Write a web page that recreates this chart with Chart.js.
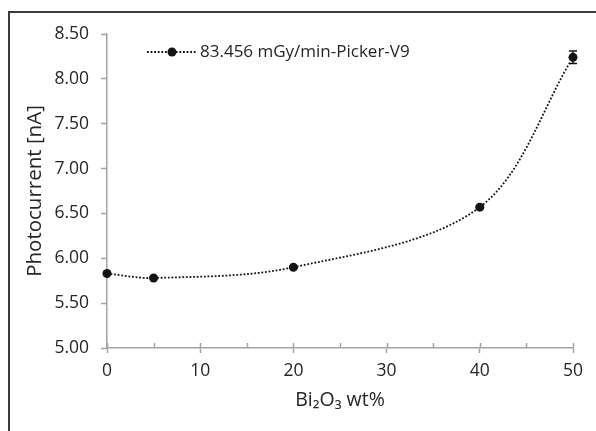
<!DOCTYPE html>
<html>
<head>
<meta charset="utf-8">
<script src="https://cdn.jsdelivr.net/npm/chart.js@4/dist/chart.umd.min.js"></script>
<style>
  html, body { margin: 0; padding: 0; background: #fff; }
</style>
</head>
<body>
<canvas id="chart" width="596" height="431"></canvas>
<script>
const wtPercent = [0, 5, 20, 40, 50]
const photocurrent = [5.83, 5.78, 5.9, 6.57, 8.24]
const errors = [0.01, 0.01, 0.01, 0.01, 0.07]
const seriesLabel = '83.456 mGy/min-Picker-V9'
const xTitle = 'Bi\u2082O\u2083 wt%'
const yTitle = 'Photocurrent [nA]'

const axisGray = '#a3a3a3'
const textColor = '#262626'
const ink = '#141414'
const fontFamily = '"Open Sans", sans-serif'

// outer frame, only top and left edges are visible in the original
const framePlugin = {
  id: 'frame',
  beforeDraw(chart) {
    const { ctx } = chart
    ctx.save()
    ctx.strokeStyle = '#3c3c3c'
    ctx.lineWidth = 2
    ctx.beginPath()
    ctx.moveTo(9, 431)
    ctx.lineTo(9, 12)
    ctx.lineTo(596, 12)
    ctx.stroke()
    ctx.restore()
  },
}

const errorBarPlugin = {
  id: 'errorBars',
  afterDatasetsDraw(chart) {
    const { ctx, scales } = chart
    ctx.save()
    ctx.strokeStyle = ink
    ctx.lineWidth = 1.5
    wtPercent.forEach((x, i) => {
      const px = scales.x.getPixelForValue(x)
      const hi = scales.y.getPixelForValue(photocurrent[i] + errors[i])
      const lo = scales.y.getPixelForValue(photocurrent[i] - errors[i])
      ctx.beginPath()
      ctx.moveTo(px, hi)
      ctx.lineTo(px, lo)
      ctx.moveTo(px - 4, hi)
      ctx.lineTo(px + 4, hi)
      ctx.moveTo(px - 4, lo)
      ctx.lineTo(px + 4, lo)
      ctx.stroke()
    })
    ctx.restore()
  },
}

// small inward ticks every 5 on the x axis
const innerTicksPlugin = {
  id: 'innerTicks',
  afterDraw(chart) {
    const { ctx, scales } = chart
    const y0 = scales.x.top
    ctx.save()
    ctx.strokeStyle = axisGray
    ctx.lineWidth = 1.5
    for (let v = 0; v <= 50; v += 5) {
      const px = Math.round(scales.x.getPixelForValue(v)) + 0.5
      ctx.beginPath()
      ctx.moveTo(px, y0)
      ctx.lineTo(px, y0 - 5)
      ctx.stroke()
    }
    ctx.restore()
  },
}

const legendPlugin = {
  id: 'lineLegend',
  afterDraw(chart) {
    const { ctx, chartArea } = chart
    const x = chartArea.left + 40
    const y = chartArea.top + 18
    ctx.save()
    ctx.strokeStyle = ink
    ctx.lineWidth = 1.8
    ctx.setLineDash([1.8, 1.8])
    ctx.beginPath()
    ctx.moveTo(x, y)
    ctx.lineTo(x + 50, y)
    ctx.stroke()
    ctx.setLineDash([])
    ctx.fillStyle = ink
    ctx.beginPath()
    ctx.arc(x + 25, y, 4.5, 0, Math.PI * 2)
    ctx.fill()
    ctx.fillStyle = textColor
    ctx.font = `17px ${fontFamily}`
    ctx.textBaseline = 'middle'
    ctx.textAlign = 'left'
    ctx.fillText(seriesLabel, x + 53, y)
    ctx.restore()
  },
}

new Chart(document.getElementById('chart'), {
  type: 'line',
  data: {
    datasets: [
      {
        label: seriesLabel,
        data: wtPercent.map((x, i) => ({ x, y: photocurrent[i] })),
        borderColor: ink,
        borderWidth: 1.8,
        borderDash: [1.8, 1.8],
        tension: 0.33,
        pointRadius: 4.5,
        pointBorderWidth: 0,
        pointBackgroundColor: ink,
        clip: false,
      },
    ],
  },
  options: {
    responsive: false,
    animation: false,
    layout: { padding: { top: 34, right: 23, left: 0, bottom: 0 } },
    plugins: {
      legend: { display: false },
      tooltip: { enabled: false },
    },
    scales: {
      x: {
        type: 'linear',
        min: 0,
        max: 50,
        afterFit: (scale) => {
          scale.height = 83
        },
        border: { color: axisGray, width: 1.5 },
        grid: {
          drawOnChartArea: false,
          tickLength: 5,
          tickWidth: 1.5,
          tickColor: (c) => (c.tick && c.tick.value % 10 === 0 ? axisGray : 'rgba(0,0,0,0)'),
        },
        ticks: {
          stepSize: 5,
          autoSkip: false,
          maxRotation: 0,
          padding: 8,
          color: textColor,
          font: { family: fontFamily, size: 17.5 },
          callback: (v) => (v % 10 === 0 ? v : ''),
        },
        title: {
          display: true,
          text: xTitle,
          color: textColor,
          font: { family: fontFamily, size: 19.5 },
          padding: { top: 0, bottom: 19 },
        },
      },
      y: {
        min: 5,
        max: 8.5,
        afterFit: (scale) => {
          scale.width = 107
        },
        border: { color: axisGray, width: 1.5 },
        grid: {
          drawOnChartArea: false,
          tickLength: 6,
          tickWidth: 1.5,
          tickColor: axisGray,
        },
        ticks: {
          stepSize: 0.5,
          padding: 12,
          color: textColor,
          font: { family: fontFamily, size: 17.5 },
          callback: (v) => v.toFixed(2),
        },
        title: {
          display: true,
          text: yTitle,
          color: textColor,
          font: { family: fontFamily, size: 20.5 },
          padding: { top: 23, bottom: 0 },
        },
      },
    },
  },
  plugins: [framePlugin, errorBarPlugin, innerTicksPlugin, legendPlugin],
})
</script>
</body>
</html>
